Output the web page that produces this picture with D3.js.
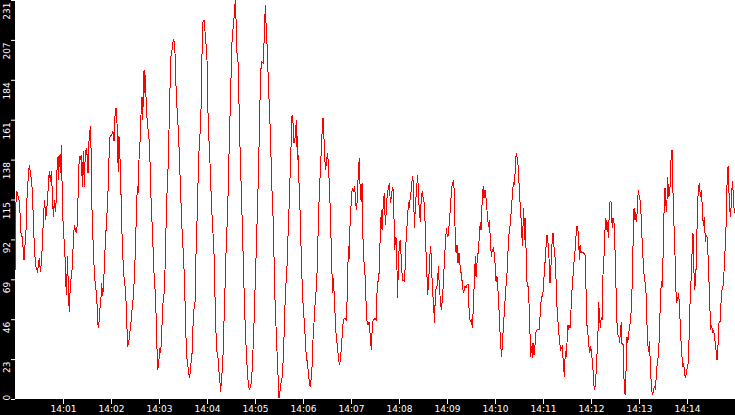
<!DOCTYPE html>
<html>
<head>
<meta charset="utf-8">
<script src="https://cdn.jsdelivr.net/npm/d3@7"></script>
<style>
  html, body { margin: 0; padding: 0; background: #fff; overflow: hidden; }
  svg { display: block; }
</style>
</head>
<body>
<div id="chart"></div>
<script>
// --------------- Data ---------------
// [seconds after 14:00:00, value], read off the picture slice by slice
const slice1 = [[0,73.8],[1.3,115.3],[2.5,120.1],[3.8,117.2],[5,115.3],[6.3,107.6],[7.5,95.9],[8.8,94],[10,88.2],[11.3,80.6],[12.5,89.2],[13.8,97.9],[15,116.3],[16.7,129.8],[17.9,135.6],[19.2,130.7],[20.8,126.9],[22.1,115.3],[22.9,103.7],[24.2,88.3],[25.8,76.7],[27.1,75.7],[28.3,72.8],[29.2,78.6],[30.4,81.5],[31.7,73.8],[33.3,80.6],[34.6,94.1],[35.8,107.6],[37.1,115.3],[38.3,103.7],[39.6,109.5],[40.8,115.3],[41.7,125],[42.9,131.7],[44.2,125.9],[45.4,131.7],[46.7,119.2],[47.9,105.6],[49.2,115.3],[50.4,108.5],[51.7,116.3],[52.5,132.7],[53.8,140.4],[54.6,126.9],[55.4,141.3],[56.7,130.7],[57.9,147.1],[58.8,125.9],[59.6,106.6],[61.3,92.1],[62.5,82.5],[63.3,67],[64.6,60.3],[65.4,82.5],[66.3,70.9],[67.1,57.4],[67.9,50.6],[69.2,67],[70.4,70.9],[71.7,76.7],[72.9,91.2],[74.2,100.8],[75.4,97.9],[77.1,96],[78.3,105.6],[79.2,126.9],[80.4,140.4],[81.7,138.5],[82.9,141.3],[84.2,123],[85.4,143.3],[86.7,123],[87.9,143.3],[89.6,145.2],[91.3,130.7],[92.5,149.1],[94.2,157.8],[95.4,139.4],[96.3,108.5],[97.5,92.1],[98.3,81.5],[99.6,70.9],[100.8,64.1],[102.1,61.3],[103.3,43.9],[104.6,41],[105.8,51.6],[107.1,54.5],[108.3,67],[109.6,59.4],[110.8,67]];
const slice2 = [[112.5,86.3],[113.8,97.9],[115,107.6],[116.3,121.1],[117.5,139.4],[118.8,152],[120.8,152.9],[122.5,154.9],[123.8,149.1],[125,163.6],[126.3,168.4],[127.5,159.7],[128.3,142.3],[129.2,131.7],[130,152],[130.8,144.2],[131.7,134.6],[132.9,110.5],[134.2,88.3],[135.8,72.8],[137.1,67],[138.3,63.2],[139.6,45.8],[140.8,30.4],[142.1,32.3],[143.3,38],[144.6,41.9],[145.8,49.7],[147.5,57.4],[148.8,67],[150.4,84.4],[151.7,107.6],[152.9,123],[153.8,119.2],[155,138.5],[156.3,149.1],[157.5,164.5],[158.8,175.1],[159.6,161.6],[161.3,190.6],[162.5,177],[162.9,187.7],[164.2,168.4],[165.4,159.7],[166.7,154.9],[168.3,146.2],[169.6,121.1],[170.8,107.6],[172.1,94.1],[173.3,76.7],[174.6,66.1],[175.8,58.4],[177.1,35.2],[178.3,16.8],[179.6,19.8],[180.8,29.4],[182.1,26.5],[183.3,36.1],[184.6,53.5],[186.3,61.2],[187.5,74.7],[188.8,99.8],[190,119.2],[191.3,133.6],[192.5,155.8],[193.8,180.9],[195,198.3],[196.3,202.1],[197.9,207.9],[198.8,207],[200,200.2],[201.3,180.9],[202.9,164.5],[204.2,155.8],[205.4,141.3],[206.7,124],[208.3,103.7],[209.6,90.2],[210.8,81.5],[212.1,65.1],[213.3,41.9],[214.6,24.6],[215.8,20.7],[217.1,14.9],[218.3,12],[219.6,18.7],[221.3,26.5],[222.5,41.9],[224.2,55.5]];
const slice3 = [[225,55.5],[225.8,76.7],[226.7,90.2],[228.3,115.3],[229.2,133.6],[230,143.3],[231.3,153.9],[232.5,167.4],[233.8,200.2],[234.6,217.6],[236.3,219.5],[237.5,212.8],[239.2,203.1],[240,196.4],[240.8,173.2],[242.1,152.9],[243.3,142.3],[244.6,125.9],[245.8,110.5],[247.5,95.9],[248.8,83.4],[250,59.3],[251.3,38],[252.5,27.5],[253.8,23.6],[255.4,13],[256.3,9.2],[257.1,4.3],[258.3,13],[259.6,18.7],[260.4,31.3],[261.7,51.6],[262.9,69.9],[264.2,91.2],[265.4,103.7],[266.7,124.9],[267.9,150],[269.2,171.3],[270.4,192.5],[271.7,213.7],[272.9,214.7],[275.4,231],[276.7,214.7],[277.5,200.2],[279.2,193.5],[280.4,160.7],[281.7,138.5],[282.9,120.1],[284.2,99.9],[285.4,78.6],[286.7,57.4],[287.9,40],[289.6,22.6],[291.3,11],[292.9,5.2],[294.6,7.2],[295.8,11],[297.5,28.4],[299.2,49.7],[300.4,69],[301.7,87.3],[302.9,107.6],[304.2,128.8],[305.4,153.9],[306.7,182.8],[307.9,195.4],[310.4,194.4],[311.7,211.8],[312.9,228.2],[314.2,212.8],[315.4,202.1],[316.7,182.8],[318.3,165.5],[319.6,148.1],[320.8,124.9],[322.1,113.4],[323.3,92.1],[324.6,65.1],[325.4,49.7],[326.7,38],[327.9,22.6],[329.2,9.2],[330,0.4],[332.5,9.2],[334.2,13],[335.8,28.4],[337.1,48.7]];
const slice4 = [[338.3,65.1],[339.6,70.9],[340.8,89.2],[342.1,103.7],[343.3,122.1],[344.6,137.5],[345.4,153.9],[346.3,164.5],[347.5,159.7],[348.8,148.1],[350,151],[351.7,161.6],[352.9,138.5],[353.3,152],[354.2,130.7],[355.4,122.1],[356.7,102.8],[358.3,74.7],[360.4,51.6],[361.7,44.8],[362.9,34.2],[364.2,23.6],[365.4,21.7],[367.1,13],[368.8,7.2],[370,11],[371.3,18.7],[372.5,34.2],[374.2,47.7],[375.4,57.4],[376.7,64.1],[377.9,76.7],[379.2,103.7],[380.4,119.2],[382.1,136.5],[383.8,153.9],[385,162.6],[386.7,146.2],[387.9,132.7],[389.2,135.6],[390.4,142.3],[391.7,137.5],[394.2,108.5],[395.8,78.6],[397.1,61.2],[397.9,69.9],[398.8,62.2],[400,49.7],[401.3,38],[402.5,32.3],[403.8,26.5],[405.4,19.8],[406.7,22.6],[407.9,29.4],[409.2,38],[410.4,45.8],[412.1,46.7],[414.2,45.8],[415.4,61.2],[416.7,88.3],[417.5,80.6],[418.3,95.9],[419.6,107.6],[420.8,119.2],[422.1,122.1],[423.3,120.1],[424.6,123],[425.8,113.4],[427.1,109.5],[428.3,120.1],[429.2,132.7],[430.4,139.4],[431.7,117.2],[432.9,114.3],[433.8,124.9],[434.6,97.9],[435.8,82.5],[437.5,71.9],[438.8,56.4],[439.6,45.8],[441.3,42.9],[442.5,44.8],[444.2,36.1],[445.4,28.4],[446.7,42.9],[447.9,45.8],[449.2,45.8]];
const slice5 = [[450,46.7],[451.3,45.8],[452.1,57.4],[453.3,68],[454.6,68],[455.4,76.7],[456.7,96.9],[457.9,109.5],[458.8,97.9],[460.4,113.4],[461.7,119.2],[462.9,100.8],[464.2,109.5],[465.4,119.2],[466.7,122.1],[467.9,125],[469.2,113.4],[470.4,117.2],[471.7,122.1],[472.9,121.1],[473.8,103.7],[474.6,86.3],[475.8,94],[476.7,92.1],[477.5,74.7],[478.3,58.4],[479.2,78.6],[480.4,89.2],[481.7,92.1],[482.9,80.6],[484.2,69],[486.7,68],[487.9,77.7],[488.8,91.2],[489.6,96.9],[490.8,106.6],[492.1,114.3],[492.9,110.5],[494.2,117.2],[495.4,121.1],[496.7,128.8],[497.9,125.9],[499.2,98.9],[500.4,110.5],[501.3,117.2],[502.5,124.9],[503.3,129.8],[504.2,121.1],[505.4,108.5],[506.7,102.7],[507.9,117.2],[509.2,120.1],[510.4,115.3],[511.7,113.4],[512.9,97.9],[513.8,84.4],[515,70.9],[515.8,60.3],[516.7,65.1],[517.9,75.7],[519.2,88.3],[520.4,82.5],[521.7,63.2],[522.5,59.3],[523.8,49.7],[524.6,43.9],[525.4,63.2],[526.7,64.1],[527.9,66.1],[529.2,76.7],[530.4,65.1],[531.7,57.4],[532.9,51.6],[534.2,57.4],[535.4,67],[536.7,79.6],[537.9,89.2],[539.2,98.9],[540.4,94],[541.7,95],[542.9,102.7],[544.2,110.5],[545.4,119.2],[546.7,124.9],[547.9,125.9],[549.2,120.1],[550,99.9],[551.3,84.4],[552.5,89.2],[553.8,78.6],[555,84.4],[556.3,77.7],[559.2,67],[560.4,61.2],[561.7,63.2]];
const slice6 = [[562.5,65.1],[563.8,64.1],[565,66.1],[566.3,66.1],[567.1,58.3],[567.9,47.7],[569.2,44.8],[570.4,45.8],[571.7,41],[572.9,52.6],[574.2,69],[575.4,82.5],[576.3,70.9],[577.1,76.7],[578.3,82.5],[579.6,87.3],[580.4,95],[581.7,102.7],[582.5,97.9],[583.3,105.6],[584.2,118.2],[585.4,123],[586.3,116.3],[587.5,121.1],[588.3,119.2],[589.6,111.5],[590.8,104.7],[591.7,99.9],[592.9,103.7],[594.2,92.1],[595.4,82.5],[596.7,86.3],[597.9,87.3],[599.2,84.4],[600.4,75.7],[601.3,68],[602.5,70.9],[603.8,62.2],[605,51.6],[605.8,42.9],[607.1,31.3],[608.3,24.6],[609.6,35.2],[610.8,43.9],[612.1,53.5],[613.3,63.2],[614.6,69],[615.8,80.6],[617.1,94.1],[618.3,97.9],[619.6,104.7],[620.4,109.5],[621.7,118.2],[622.9,124.9],[623.8,124],[625,129.8],[625.8,138.5],[626.7,142.3],[627.9,139.4],[629.2,133.6],[630.4,121.1],[631.7,110.5],[632.5,104.7],[633.3,98.9],[634.2,88.3],[635,99.9],[635.8,110.5],[636.7,92.1],[637.5,104.7],[638.3,96],[639.2,79.6],[640,68],[641.3,65.1],[642.5,55.5],[643.8,37.1],[644.6,24.6],[645.8,30.4],[646.7,23.6],[647.5,32.3],[648.8,25.5],[650,31.3],[651.3,39],[652.9,40],[655,40],[656.7,49.7],[657.9,59.3],[659.6,59.3],[660.8,67],[662.1,76.7],[663.3,83.4],[664.2,92.1],[665,95],[666.3,90.2],[667.5,81.5],[668.8,67],[669.6,73.8],[670.4,80.6],[671.3,90.2],[672.5,95.9],[673.3,93.1],[674.2,83.4]];
const slice7 = [[675,82.5],[676.3,69],[677.1,56.4],[678.3,47.7],[679.6,39],[680.8,34.2],[681.7,28.4],[682.9,29.4],[684.2,30.4],[685.4,20.7],[686.7,13],[687.9,27.5],[689.2,24.6],[690,32.3],[690.8,42.9],[691.7,40],[692.5,42.9],[693.8,41],[695,51.6],[696.3,63.2],[697.5,70.9],[698.8,79.6],[700,85.4],[700.8,91.2],[702.1,99.9],[703.3,99.9],[704.6,92.1],[705.4,80.6],[706.3,89.2],[707.5,84.4],[708.3,85.4],[710.8,84.4],[712.5,83.4],[713.8,63.2],[714.6,43.9],[715.8,40],[717.1,32.3],[718.3,26.5],[719.6,30.4],[720.8,25.5],[722.1,20.7],[723.3,9.1],[724.6,5.2],[725.8,10],[726.7,18.7],[727.9,29.4],[728.8,40],[729.6,56.4],[730.4,49.7],[731.7,40.9],[732.9,47.7],[733.8,45.8],[735,71.9],[736.3,83.4],[737.1,90.2],[737.9,104.7],[738.8,97.9],[739.6,103.7],[740.8,99.9],[741.7,93.1],[742.9,108.5],[743.8,114.3],[745,114.3],[745.8,104.7],[746.7,98.9],[747.5,104.7],[748.8,101.8],[750,86.3],[751.3,64.1],[752.5,43.9],[753.8,37.1],[755,36.1],[755.8,32.3],[756.7,39],[757.9,44.8],[758.8,31.3],[760,32.3],[761.3,11],[762.1,4.2],[762.9,2.3],[764.2,23.6],[765,36.1],[765.8,32.3],[767.1,38],[768.3,41.9],[769.6,45.8],[770.8,56.4],[772.1,76.7],[772.9,98.9],[773.8,110.5],[774.6,103.7],[775.4,108.5],[776.3,103.7],[777.1,102.7],[777.9,111.5],[779.2,121.1],[780.4,116.3],[781.7,114.3],[782.9,103.7],[784.2,88.3],[785.4,78.6],[786.7,69]];
const slice8 = [[787.5,68],[788.8,61.2],[790,42.9],[791.3,30.4],[792.1,27.5],[792.9,33.3],[794.2,20.7],[795.4,7.2],[796.7,2.3],[797.9,4.3],[799.2,7.2],[800.4,6.2],[801.7,13],[802.9,21.7],[804.2,24.6],[805.4,36.1],[806.7,56.4],[807.9,68],[808.8,65.1],[810,81.5],[811.3,108.5],[812.5,122.1],[813.3,115.3],[814.2,108.5],[815,115.3],[815.8,128.8],[817.1,117.2],[817.9,118.2],[818.8,123],[820,138.5],[821.3,144.2],[822.1,125.9],[823.8,99.9],[825,83.4],[825.8,65.1],[827.1,56.4],[828.3,57.4],[829.6,61.2],[830.8,51.6],[832.1,37.1],[833.3,27.5],[834.6,18.7],[835.8,20.7],[836.7,16.8],[837.9,12],[839.2,14.9],[840.4,18.7],[841.7,20.7],[842.9,40],[843.8,55.5],[845,68],[846.3,84.4],[847.5,96],[848.3,78.6],[849.6,63.2],[850.4,68],[851.7,78.6],[852.9,107.6],[854.2,122.1],[855.4,125],[856.7,117.2],[857.9,121.1],[859.2,110.5],[860.4,99.9],[861.7,105.6],[862.9,91.2],[864.2,95],[865.4,93.1],[866.7,78.6],[868.3,57.4],[869.6,40],[870.8,42.9],[872.1,38],[873.3,40],[874.2,36.1],[875.4,32.3],[876.7,26.5],[877.5,22.6],[878.8,31.3],[880,43.9],[881.3,44.8],[882.5,55.5],[883.8,63.2],[885,65.1],[886.7,76.7],[888.8,99.9],[890,123.9],[891.3,134.6],[892.1,124.9],[893.3,109.5],[894.6,105.6],[895.8,120.1],[897.1,125.9],[897.9,116.3],[899.2,107.6]];

const Y_MAX = 231;
const Y_TICK_LABELS = ["0", "23", "46", "69", "92", "115", "138", "161", "184", "207", "231"];
const X_TICK_MINUTES = [1, 2, 3, 4, 5, 6, 7, 8, 9, 10, 11, 12, 13, 14];
const SPAN_MINUTES = 15;

// --------------- Constants ---------------
const WIDTH = 735;
const HEIGHT = 415;
const LEFT_STRIP = 15;
const BOTTOM_STRIP = 16;
const LINE_COLOR = "#ff0000";
const STRIP_COLOR = "#000000";
const TEXT_COLOR = "#ffffff";
const FONT = "'DejaVu Sans', sans-serif";

const start = new Date(2000, 0, 1, 14, 0, 0);
const readings = [].concat(slice1, slice2, slice3, slice4, slice5, slice6, slice7, slice8)
  .map(([s, v]) => ({ time: new Date(+start + s * 1000), value: v }));

const plotBottom = HEIGHT - BOTTOM_STRIP;

const x = d3.scaleTime()
  .domain([start, d3.timeMinute.offset(start, SPAN_MINUTES)])
  .range([LEFT_STRIP, WIDTH]);

const y = d3.scaleLinear()
  .domain([0, Y_MAX])
  .range([plotBottom, 0]);

// Prep svg
const svg = d3.select("#chart")
  .append("svg")
  .attr("width", WIDTH)
  .attr("height", HEIGHT);

svg.append("rect")
  .attr("width", WIDTH)
  .attr("height", HEIGHT)
  .attr("fill", "#ffffff");

// Red series
const line = d3.line()
  .x((d) => x(d.time))
  .y((d) => y(d.value));

svg.append("path")
  .datum(readings)
  .attr("d", line)
  .attr("fill", "none")
  .attr("stroke", LINE_COLOR)
  .attr("stroke-width", 1)
  .attr("shape-rendering", "crispEdges");

// Black strips holding the axes
svg.append("rect")
  .attr("x", 0)
  .attr("y", 0)
  .attr("width", LEFT_STRIP)
  .attr("height", HEIGHT)
  .attr("fill", STRIP_COLOR);

svg.append("rect")
  .attr("x", 0)
  .attr("y", plotBottom)
  .attr("width", WIDTH)
  .attr("height", BOTTOM_STRIP)
  .attr("fill", STRIP_COLOR);

// Y axis, labels rotated and hanging under each tick
const yTicks = Y_TICK_LABELS.map((_l, i) => (i * Y_MAX) / 10);

const yAxis = svg.append("g")
  .attr("transform", `translate(${LEFT_STRIP},0)`)
  .call(
    d3.axisLeft(y)
      .tickValues(yTicks)
      .tickSize(4)
      .tickFormat((_d, i) => Y_TICK_LABELS[i])
  );

yAxis.select(".domain").remove();
yAxis.selectAll(".tick line").attr("stroke", TEXT_COLOR);
yAxis.selectAll(".tick text")
  .attr("transform", "rotate(-90)")
  .attr("x", (_d, i) => (i === 0 ? -1 : -2))
  .attr("y", -5.5)
  .attr("dy", 0)
  .attr("text-anchor", (_d, i) => (i === 0 ? "start" : "end"))
  .attr("fill", TEXT_COLOR)
  .style("font-family", FONT)
  .style("font-size", "9px");

// X axis
const xAxis = svg.append("g")
  .attr("transform", `translate(0,${plotBottom})`)
  .call(
    d3.axisBottom(x)
      .tickValues(X_TICK_MINUTES.map((m) => d3.timeMinute.offset(start, m)))
      .tickSize(5)
      .tickPadding(2)
      .tickFormat(d3.timeFormat("%H:%M"))
  );

xAxis.select(".domain").remove();
xAxis.selectAll(".tick line").attr("stroke", TEXT_COLOR);
xAxis.selectAll(".tick text")
  .attr("fill", TEXT_COLOR)
  .style("font-family", FONT)
  .style("font-size", "9px");
</script>
</body>
</html>
